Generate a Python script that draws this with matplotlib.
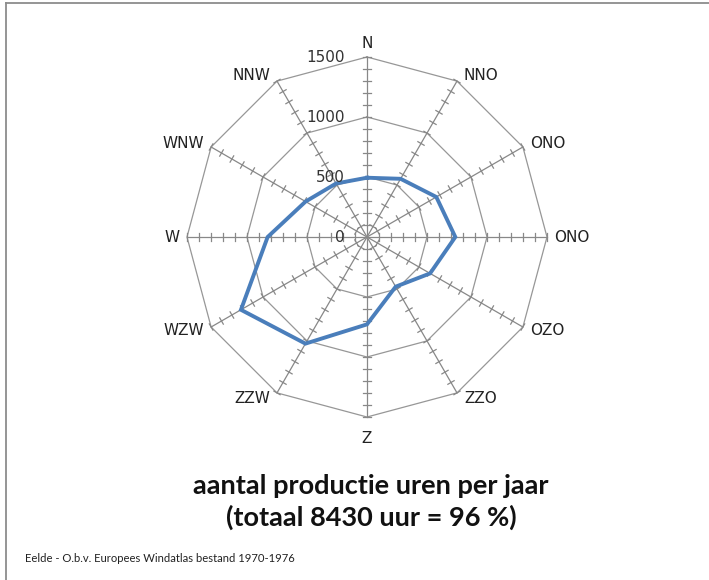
import matplotlib.pyplot as plt
import numpy as np

# wind directions (as labelled in the original chart)
directions = ["N", "NNO", "ONO", "ONO", "OZO", "ZZO",
              "Z", "ZZW", "WZW", "W", "WNW", "NNW"]
# production hours per year per direction
hours = [494, 560, 667, 736, 607, 478, 728, 1026, 1213, 828, 591, 515]
grid_levels = [500, 1000, 1500]
grid_labels = ["0", "500", "1000", "1500"]
r_max = 1500
minor_step = 100

title = "aantal productie uren per jaar\n(totaal 8430 uur = 96 %)"
source = "Eelde - O.b.v. Europees Windatlas bestand 1970-1976"


def to_xy(r, theta):
    return r * np.sin(theta), r * np.cos(theta)


def main():
    fig = plt.figure(figsize=(7.09, 5.80), dpi=100)

    # axes centred on the chart centre (367, 237 px)
    ax = fig.add_axes([167 / 709, 143 / 580, 400 / 709, 400 / 580])
    lim = r_max * 200 / 180
    ax.set_xlim(-lim, lim)
    ax.set_ylim(-lim, lim)
    ax.set_aspect("equal")
    ax.axis("off")

    n = len(directions)
    theta = np.arange(n) * 2 * np.pi / n
    theta_c = np.append(theta, theta[0])
    grey = "#888888"

    # polygon gridlines
    for lev in grid_levels:
        gx, gy = to_xy(lev, theta_c)
        ax.plot(gx, gy, color="#979797", lw=0.9, zorder=1)

    # spokes with cross ticks
    tick_r = np.arange(minor_step, r_max + 1, minor_step)
    half = 30
    for t in theta:
        sx, sy = to_xy(np.array([0, r_max]), t)
        ax.plot(sx, sy, color=grey, lw=0.9, zorder=1)
        px, py = np.cos(t), -np.sin(t)
        for r in tick_r:
            cx, cy = to_xy(r, t)
            ax.plot([cx - half * px, cx + half * px],
                     [cy - half * py, cy + half * py],
                     color=grey, lw=0.9, zorder=1)

    # data
    vals = np.append(hours, hours[0])
    dx, dy = to_xy(vals, theta_c)
    ax.plot(dx, dy, color="#4A7EBB", lw=2.8, zorder=3,
            solid_joinstyle="miter")

    # value labels along the N spoke
    for i, lab in enumerate(grid_labels):
        ax.annotate(lab, (0, i * 500), xytext=(-16, 0),
                    textcoords="offset points", ha="right", va="center",
                    fontsize=11, color="#333333", family="DejaVu Sans",
                    zorder=4)

    # category labels
    for lab, t in zip(directions, theta):
        ex, ey = to_xy(r_max, t)
        s, c = np.sin(t), np.cos(t)
        if abs(s) < 0.1:
            ha = "center"
            va = "bottom" if c > 0 else "top"
            off = (0, 4 if c > 0 else -10)
        else:
            ha = "left" if s > 0 else "right"
            va = "center"
            off = (5 * np.sign(s), 5 * c)
        ax.annotate(lab, (ex, ey), xytext=off, textcoords="offset points",
                    ha=ha, va=va, fontsize=11, color="#222222",
                    family="DejaVu Sans")

    fig.text(371 / 709, 1 - 502 / 580, title, ha="center", va="center",
             fontsize=19.5, fontweight="bold", family="Lato",
             linespacing=1.32, color="#111111")
    fig.text(25 / 709, 1 - 558 / 580, source, ha="left", va="center",
             fontsize=8.1, family="Lato", color="#222222")

    # outer frame (top and left edges visible)
    fig.add_artist(plt.Line2D([5.5 / 709, 5.5 / 709], [0, 1 - 2.5 / 580],
                              color="#8c8c8c", lw=1.3))
    fig.add_artist(plt.Line2D([5.5 / 709, 1], [1 - 2.5 / 580, 1 - 2.5 / 580],
                              color="#8c8c8c", lw=1.3))

    fig.savefig("out.png", dpi=100)


if __name__ == "__main__":
    main()
